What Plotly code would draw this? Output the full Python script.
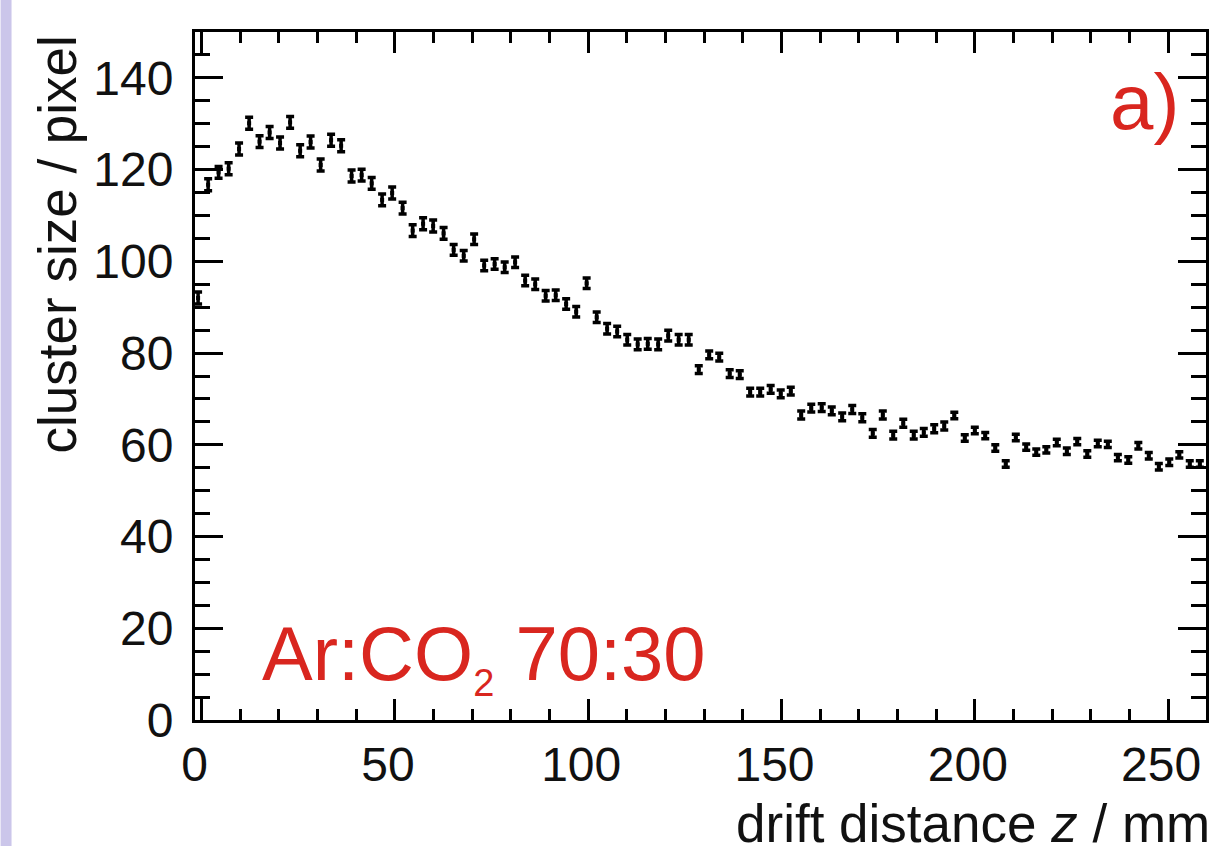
import plotly.graph_objects as go

# drift distance bin centres (mm)
z_mm = [-0.9, 1.7, 4.4, 7.0, 9.7, 12.3, 15.0, 17.6, 20.3, 22.9,
        25.5, 28.2, 30.8, 33.5, 36.1, 38.8, 41.4, 44.0, 46.7, 49.3,
        52.0, 54.6, 57.3, 59.9, 62.6, 65.2, 67.8, 70.5, 73.1, 75.8,
        78.4, 81.1, 83.7, 86.3, 89.0, 91.6, 94.3, 96.9, 99.6, 102.2,
        104.9, 107.5, 110.1, 112.8, 115.4, 118.1, 120.7, 123.4, 126.0, 128.6,
        131.3, 133.9, 136.6, 139.2, 141.9, 144.5, 147.2, 149.8, 152.4, 155.1,
        157.7, 160.4, 163.0, 165.7, 168.3, 170.9, 173.6, 176.2, 178.9, 181.5,
        184.2, 186.8, 189.5, 192.1, 194.7, 197.4, 200.0, 202.7, 205.3, 208.0,
        210.6, 213.3, 215.9, 218.5, 221.2, 223.8, 226.5, 229.1, 231.8, 234.4,
        237.0, 239.7, 242.3, 245.0, 247.6, 250.3, 252.9, 255.6, 258.2]

# mean cluster size (pixel)
cluster_size = [92.0, 116.7, 119.4, 120.2, 124.5, 130.1, 126.1, 128.1, 125.8, 130.3,
                124.1, 126.0, 121.0, 126.4, 125.2, 118.6, 118.8, 117.0, 113.4, 114.9,
                111.6, 106.7, 108.2, 107.7, 106.1, 102.5, 101.2, 104.8, 99.1, 99.4,
                98.7, 99.8, 95.8, 95.0, 92.5, 92.6, 90.7, 89.0, 95.2, 87.8,
                85.3, 84.7, 82.9, 81.9, 82.0, 81.9, 83.8, 82.9, 82.9, 76.4,
                79.6, 79.1, 75.5, 75.3, 71.5, 71.5, 72.1, 71.1, 71.7, 66.5,
                68.0, 68.1, 67.4, 66.1, 67.7, 65.9, 62.5, 66.5, 62.1, 64.7,
                62.1, 62.7, 63.5, 64.1, 66.4, 61.5, 63.1, 62.0, 59.3, 55.8,
                61.6, 59.5, 58.4, 58.9, 60.5, 58.6, 60.7, 58.0, 60.3, 60.1,
                57.2, 56.7, 59.8, 57.6, 55.2, 56.2, 57.8, 55.8, 55.8]

# statistical uncertainty (pixel)
cluster_err = [1.3] * 25 + [1.15] * 24 + [0.85] * 25 + [0.7] * 25

y_ticks = [0, 20, 40, 60, 80, 100, 120, 140]
x_ticks = [0, 50, 100, 150, 200, 250]

RED = "#d9261f"
INK = "#111111"
FONT = "Liberation Sans, Arial, Helvetica, sans-serif"

# plot area in pixels
L, R, T, B = 195, 1209, 32, 720
W, H = 1221, 846
pw, ph = R - L, B - T

def px_x(p):
    return (p - L) / pw

def px_y(p):
    return (B - p) / ph

fig = go.Figure()
fig.add_trace(go.Scatter(
    x=z_mm, y=cluster_size, mode="markers",
    marker=dict(symbol="square", size=4, color="black"),
    error_y=dict(type="data", array=cluster_err, visible=True,
                 color="black", thickness=3.5, width=4),
    showlegend=False, hoverinfo="x+y",
))

axis_common = dict(
    showline=True, linecolor="black", linewidth=3, mirror="allticks",
    ticks="inside", tickcolor="black", tickwidth=2.5,
    showgrid=False, zeroline=False,
    tickfont=dict(family=FONT, size=48, color=INK),
)

fig.update_xaxes(
    range=[-1.7, 259.8], tickmode="array", tickvals=x_ticks,
    ticktext=[str(v) for v in x_ticks], ticklen=21,
    minor=dict(dtick=10, tick0=0, ticks="inside", ticklen=11,
               tickwidth=2.5, tickcolor="black", showgrid=False),
    ticklabelstandoff=0, ticklabelshift=-7,
    **axis_common,
)
fig.update_yaxes(
    range=[0, 150], tickmode="array", tickvals=y_ticks,
    ticktext=[str(v) for v in y_ticks], ticklen=28,
    minor=dict(dtick=5, tick0=0, ticks="inside", ticklen=15,
               tickwidth=2.5, tickcolor="black", showgrid=False),
    ticklabelstandoff=9,
    **axis_common,
)

annotations = [
    dict(text="cluster size / pixel", textangle=-90,
         xref="paper", yref="paper", x=px_x(57), y=px_y(33),
         xanchor="center", yanchor="top", showarrow=False,
         font=dict(family=FONT, size=53, color=INK)),
    dict(text="drift distance <i>z</i> / mm",
         xref="paper", yref="paper", x=px_x(1215), y=px_y(823),
         xanchor="right", yanchor="middle", showarrow=False,
         font=dict(family=FONT, size=53, color=INK)),
    dict(text='Ar:CO<sub><span style="font-size:38px">2</span></sub> 70:30',
         xref="paper", yref="paper", x=px_x(260), y=px_y(657),
         xanchor="left", yanchor="middle", showarrow=False,
         font=dict(family=FONT, size=76, color=RED)),
    dict(text="a)",
         xref="paper", yref="paper", x=px_x(1184), y=px_y(102),
         xanchor="right", yanchor="middle", showarrow=False,
         font=dict(family=FONT, size=78, color=RED)),
]

shapes = [
    dict(type="rect", xref="paper", yref="paper",
         x0=px_x(0), x1=px_x(11), y0=px_y(H), y1=px_y(0),
         fillcolor="#cbc6ea", line=dict(width=0), layer="below"),
]

fig.update_layout(
    width=W, height=H,
    margin=dict(l=L, r=W - R, t=T, b=H - B, pad=0),
    paper_bgcolor="white", plot_bgcolor="white",
    annotations=annotations, shapes=shapes,
    font=dict(family=FONT, color=INK),
)

fig.write_html(
    "out.html",
    config={"displayModeBar": False},
    post_script="document.body.style.margin='0';document.body.style.overflow='hidden';",
)
